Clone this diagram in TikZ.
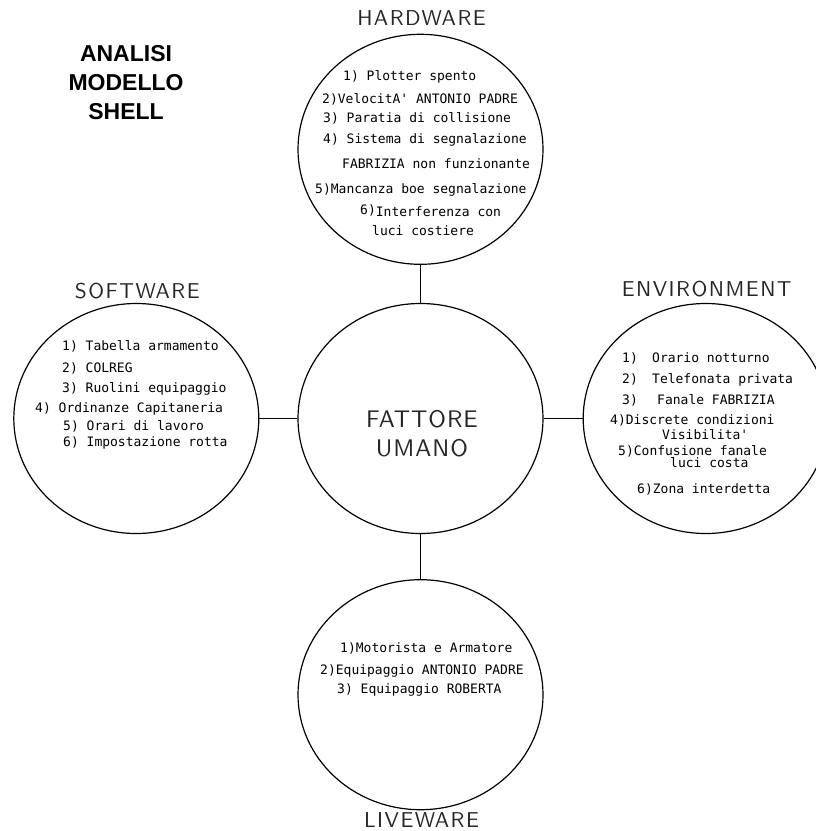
\documentclass[tikz,border=0pt]{standalone}
\usepackage{fontspec}
\usepackage{tikz}
\usetikzlibrary{positioning,shapes.geometric}
\newfontfamily\itemfont{DejaVu Sans Mono}
\newfontfamily\titlefont{Liberation Sans}
\newfontfamily\headfont[LetterSpace=7]{lmsans10-regular.otf}
\newfontfamily\centerfont[LetterSpace=4]{lmsans10-regular.otf}

\begin{document}
\begin{tikzpicture}[x=1pt, y=-1pt,
    bignode/.style={ellipse, draw=black, line width=1.2pt, minimum width=245pt, minimum height=230pt, inner sep=0pt},
    headnode/.style={font=\headfont\fontsize{21.5}{26}\selectfont, text=black!85, inner sep=0pt},
    itemnode/.style={font=\itemfont\fontsize{13}{16}\selectfont, anchor=base west, inner sep=0pt},
    link/.style={draw=black, line width=1.8pt}
    ]
        \useasboundingbox (0,0) rectangle (816,831);

        %Title
        \node[font=\titlefont\bfseries\fontsize{23}{29}\selectfont, align=center, anchor=north, inner sep=0pt]
            (title) at (126,45) {ANALISI\\MODELLO\\SHELL};

        %Nodes
        \node[bignode]
            (hf) at (420.5,418.5) {};
        \node[headnode, font=\centerfont\fontsize{24}{29}\selectfont, align=center, anchor=north]
            (hftext) at (422,410) {FATTORE\\UMANO};
        \node[bignode, label={[headnode, label distance=8pt, xshift=1pt]above:HARDWARE}]
            (hw)    [above=38pt of hf]   {};
        \node[bignode, label={[headnode, label distance=3.5pt, xshift=1pt]above:SOFTWARE}]
            (sw)    [left=38pt of hf]    {};
        \node[bignode, label={[headnode, label distance=5.5pt, xshift=1pt]above:ENVIRONMENT}]
            (env)   [right=39pt of hf]   {};
        \node[bignode, label={[headnode, label distance=2pt, xshift=1pt]below:LIVEWARE}]
            (lw)    [below=45pt of hf]   {};

        %Hardware
        \node[itemnode] (hw1) at (343,80)  {1) Plotter spento};
        \node[itemnode] (hw2) at (322,103) {2)VelocitA' ANTONIO PADRE};
        \node[itemnode] (hw3) at (323,122) {3) Paratia di collisione};
        \node[itemnode] (hw4) at (323,143) {4) Sistema di segnalazione};
        \node[itemnode] (hw5) at (342,168) {FABRIZIA non funzionante};
        \node[itemnode] (hw6) at (315,193) {5)Mancanza boe segnalazione};
        \node[itemnode] (hw7) at (360,216) {\raisebox{2pt}{6)}Interferenza con};
        \node[itemnode] (hw8) at (372,235) {luci costiere};

        %Software
        \node[itemnode] (sw1) at (62,350)  {1) Tabella armamento};
        \node[itemnode] (sw2) at (62,372)  {2) COLREG};
        \node[itemnode] (sw3) at (62,392)  {3) Ruolini equipaggio};
        \node[itemnode] (sw4) at (35,412)  {4) Ordinanze Capitaneria};
        \node[itemnode] (sw5) at (63,430)  {5) Orari di lavoro};
        \node[itemnode] (sw6) at (63,446)  {6) Impostazione rotta};

        %Environment
        \node[itemnode] (env1) at (622,362) {\makebox[30pt][l]{1)}Orario notturno};
        \node[itemnode] (env2) at (622,383) {\makebox[30pt][l]{2)}Telefonata privata};
        \node[itemnode] (env3) at (622,404) {\makebox[35pt][l]{3)}Fanale FABRIZIA};
        \node[itemnode] (env4) at (610,424) {4)Discrete condizioni};
        \node[itemnode] (env5) at (662,439) {Visibilita'};
        \node[itemnode] (env6) at (618,455) {5)Confusione fanale};
        \node[itemnode] (env7) at (670,467) {luci costa};
        \node[itemnode] (env8) at (637,493) {6)Zona interdetta};

        %Liveware
        \node[itemnode] (lw1) at (340,652) {1)Motorista e Armatore};
        \node[itemnode] (lw2) at (320,674) {2)Equipaggio ANTONIO PADRE};
        \node[itemnode] (lw3) at (337,693) {3) Equipaggio ROBERTA};

        %Lines
        \draw[link] (hw) -- (hf);
        \draw[link] (sw) -- (hf);
        \draw[link] (hf) -- (env);
        \draw[link] (hf) -- (lw);
    \end{tikzpicture}
\end{document}
